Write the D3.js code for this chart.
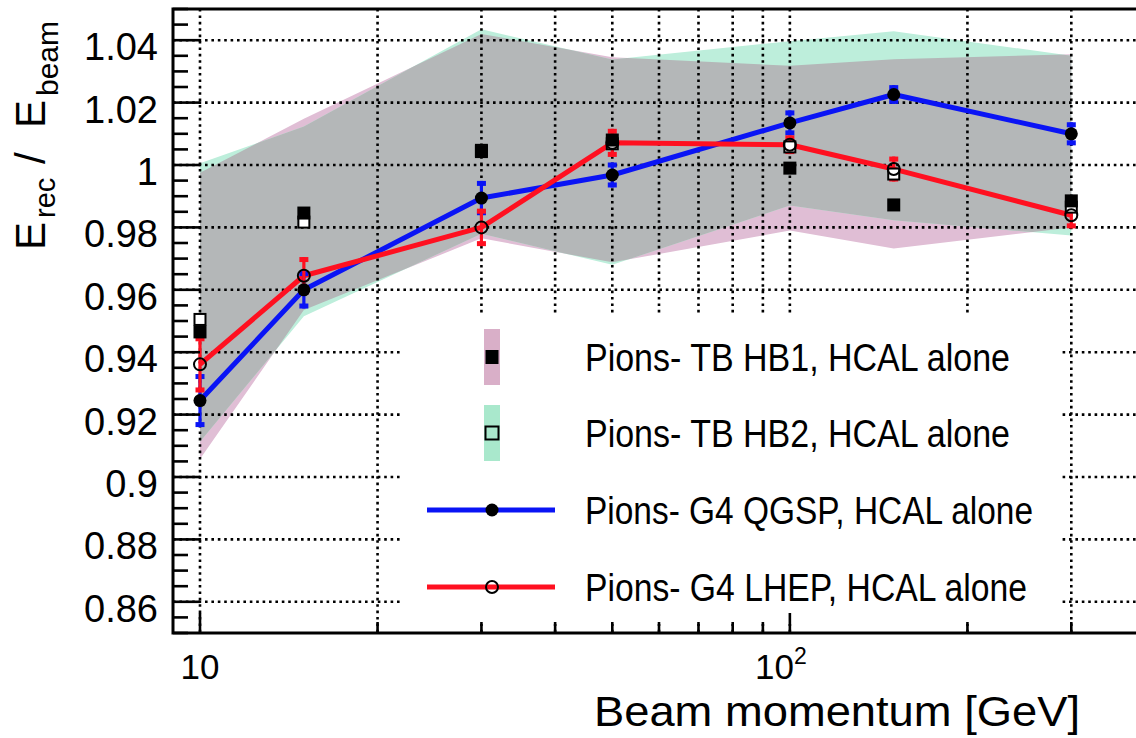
<!DOCTYPE html>
<html>
<head>
<meta charset="utf-8">
<script src="https://cdn.jsdelivr.net/npm/d3@7"></script>
<style>
  html, body { margin: 0; padding: 0; background: #fff; }
  svg { display: block; font-family: "Liberation Sans", Arial, sans-serif; }
</style>
</head>
<body>
<svg id="chart" width="1136" height="738"></svg>
<script>
// Beam energies (GeV)
const energies = [10, 15, 30, 50, 100, 150, 300];

// Geant4 QGSP simulation, HCAL alone
const qgsp    = [0.9245, 0.9600, 0.9894, 0.9968, 1.0135, 1.0226, 1.0100];
const qgspErr = [0.0085, 0.0060, 0.0055, 0.0040, 0.0040, 0.0030, 0.0037];

// Geant4 LHEP simulation, HCAL alone
const lhep    = [0.9361, 0.9645, 0.9800, 1.0071, 1.0065, 0.9987, 0.9839];
const lhepErr = [0.0090, 0.0060, 0.0060, 0.0045, 0.0030, 0.0040, 0.0042];

// Test-beam measurements
const hb1 = [0.9465, 0.9846, 1.0043, 1.0080, 0.9990, 0.9872, 0.9885];
const hb2 = [0.9505, 0.9817, 1.0047, 1.0068, 1.0058, 0.9971, 0.9865];

// Systematic uncertainty bands of the test-beam data
const hb1BandHi = [0.9975, 1.0148, 1.0420, 1.0345, 1.0318, 1.0339, 1.0355];
const hb1BandLo = [0.9058, 0.9535, 0.9765, 0.9688, 0.9790, 0.9732, 0.9800];
const hb2BandHi = [1.0006, 1.0123, 1.0435, 1.0338, 1.0397, 1.0429, 1.0350];
const hb2BandLo = [0.9113, 0.9515, 0.9780, 0.9680, 0.9870, 0.9823, 0.9774];

// Axis ticks
const yMajorTicks = [0.86, 0.88, 0.9, 0.92, 0.94, 0.96, 0.98, 1, 1.02, 1.04];
const yTickLabels = ["0.86", "0.88", "0.9", "0.92", "0.94", "0.96", "0.98", "1", "1.02", "1.04"];
const xGridValues = [10, 20, 30, 40, 50, 60, 70, 80, 90, 100, 200, 300];
const xMajorTicks = [10, 100];

const legendLabels = [
  "Pions- TB HB1, HCAL alone",
  "Pions- TB HB2, HCAL alone",
  "Pions- G4 QGSP, HCAL alone",
  "Pions- G4 LHEP, HCAL alone"
];

const C = {
  pink: "#e0bed5", green: "#bdeedb", overlap: "#b4b7b8",
  pinkKey: "#d9afc8", greenKey: "#a9e8cc",
  blue: "#0a14f5", red: "#ff1020"
};

const svg = d3.select("#chart");
const plot = { left: 173, right: 1145, top: 9, bottom: 633 };

const x = d3.scaleLog().domain([9, 400]).range([plot.left, plot.right]);
const y = d3.scaleLinear().domain([0.85, 1.05]).range([plot.bottom, plot.top]);

svg.append("defs").append("clipPath").attr("id", "plotClip")
  .append("rect").attr("x", plot.left).attr("y", plot.top)
  .attr("width", plot.right - plot.left).attr("height", plot.bottom - plot.top);

const root = svg.append("g").attr("clip-path", "url(#plotClip)");

// ---- uncertainty bands ----
const bandArea = (lo, hi) => d3.area()
  .x((d, i) => x(energies[i]))
  .y0((d, i) => y(lo[i]))
  .y1((d, i) => y(hi[i]));

const hb1Path = bandArea(hb1BandLo, hb1BandHi)(energies);
const hb2Path = bandArea(hb2BandLo, hb2BandHi)(energies);

svg.select("defs").append("clipPath").attr("id", "hb2Clip")
  .append("path").attr("d", hb2Path);

root.append("path").attr("d", hb1Path).attr("fill", C.pink);
root.append("path").attr("d", hb2Path).attr("fill", C.green);
// overlap of the two bands
root.append("path").attr("d", hb1Path).attr("fill", C.overlap)
  .attr("clip-path", "url(#hb2Clip)");

// ---- grid ----
const grid = root.append("g").attr("stroke", "#000").attr("stroke-width", 2.6)
  .attr("stroke-dasharray", "2.6,3.8").attr("fill", "none");
grid.selectAll("line.v").data(xGridValues).join("line").attr("class", "v")
  .attr("x1", d => x(d)).attr("x2", d => x(d))
  .attr("y1", plot.top).attr("y2", plot.bottom);
grid.selectAll("line.h").data(yMajorTicks).join("line").attr("class", "h")
  .attr("x1", plot.left).attr("x2", plot.right)
  .attr("y1", d => y(d)).attr("y2", d => y(d));

// ---- legend box (white, hides the grid behind it) ----
const lg = { x: 402, y: 316, w: 660, h: 308 };
root.append("rect").attr("x", lg.x).attr("y", lg.y).attr("width", lg.w).attr("height", lg.h)
  .attr("fill", "#fff");

// ---- simulation lines ----
const line = vals => d3.line().x((d, i) => x(energies[i])).y((d, i) => y(vals[i]))(energies);
root.append("path").attr("d", line(qgsp)).attr("fill", "none")
  .attr("stroke", C.blue).attr("stroke-width", 5).attr("stroke-linejoin", "round");
root.append("path").attr("d", line(lhep)).attr("fill", "none")
  .attr("stroke", C.red).attr("stroke-width", 5).attr("stroke-linejoin", "round");

// ---- error bars ----
function errorBars(vals, errs, color) {
  const g = root.append("g").attr("fill", color).attr("stroke", color);
  energies.forEach((e, i) => {
    const cx = x(e), yHi = y(vals[i] + errs[i]), yLo = y(vals[i] - errs[i]);
    g.append("line").attr("x1", cx).attr("x2", cx).attr("y1", yHi).attr("y2", yLo)
      .attr("stroke-width", 3.2);
    g.append("rect").attr("x", cx - 4.5).attr("y", yHi).attr("width", 9).attr("height", 5)
      .attr("stroke", "none");
    g.append("rect").attr("x", cx - 4.5).attr("y", yLo - 5).attr("width", 9).attr("height", 5)
      .attr("stroke", "none");
  });
}
errorBars(qgsp, qgspErr, C.blue);
errorBars(lhep, lhepErr, C.red);

// ---- markers ----
const sq = 13;
root.append("g").selectAll("rect").data(hb2).join("rect")
  .attr("x", (d, i) => x(energies[i]) - sq / 2 + 1).attr("y", d => y(d) - sq / 2 + 1)
  .attr("width", sq - 2).attr("height", sq - 2)
  .attr("fill", "#fff").attr("stroke", "#000").attr("stroke-width", 2);
root.append("g").selectAll("rect").data(hb1).join("rect")
  .attr("x", (d, i) => x(energies[i]) - sq / 2).attr("y", d => y(d) - sq / 2)
  .attr("width", sq).attr("height", sq).attr("fill", "#000");
root.append("g").selectAll("circle").data(qgsp).join("circle")
  .attr("cx", (d, i) => x(energies[i])).attr("cy", d => y(d)).attr("r", 6.5)
  .attr("fill", "#000");
root.append("g").selectAll("circle").data(lhep).join("circle")
  .attr("cx", (d, i) => x(energies[i])).attr("cy", d => y(d)).attr("r", 6)
  .attr("fill", "none").attr("stroke", "#000").attr("stroke-width", 2);

// ---- frame & axes ----
svg.append("rect").attr("x", plot.left).attr("y", plot.top)
  .attr("width", plot.right - plot.left).attr("height", plot.bottom - plot.top)
  .attr("fill", "none").attr("stroke", "#000").attr("stroke-width", 3);

const yMinor = d3.range(0.85, 1.0501, 0.005).map(v => +v.toFixed(3));
const yAxisG = svg.append("g").attr("stroke", "#000").attr("stroke-width", 2.6);
yAxisG.selectAll("line").data(yMinor).join("line")
  .attr("x1", plot.left)
  .attr("x2", d => plot.left + (yMajorTicks.some(t => Math.abs(t - d) < 1e-6) ? 27 : 15))
  .attr("y1", d => y(d)).attr("y2", d => y(d));

svg.append("g").selectAll("text").data(yMajorTicks).join("text")
  .attr("x", 158).attr("y", d => y(d) + 20)
  .attr("text-anchor", "end").attr("font-size", 38).attr("fill", "#000")
  .text((d, i) => yTickLabels[i]);

const xAxisG = svg.append("g").attr("stroke", "#000").attr("stroke-width", 2.6);
xAxisG.selectAll("line").data(xGridValues).join("line")
  .attr("x1", d => x(d)).attr("x2", d => x(d))
  .attr("y1", plot.bottom)
  .attr("y2", d => plot.bottom - (xMajorTicks.includes(d) ? 20 : 11));

// x tick labels: 10 and 10^2
const xl = svg.append("g").attr("font-size", 35).attr("fill", "#000");
xl.append("text").attr("x", x(10)).attr("y", 679).attr("text-anchor", "middle").text("10");
const t2 = xl.append("text").attr("x", x(100) - 9).attr("y", 679).attr("text-anchor", "middle");
t2.append("tspan").text("10");
t2.append("tspan").attr("font-size", 23).attr("dy", -15).text("2");

// axis titles
svg.append("text").attr("x", 1080).attr("y", 726).attr("text-anchor", "end")
  .attr("font-size", 43).attr("fill", "#000")
  .attr("textLength", 486).attr("lengthAdjust", "spacingAndGlyphs")
  .text("Beam momentum [GeV]");

const yt = svg.append("text").attr("transform", "translate(45,0) rotate(-90)")
  .attr("fill", "#000").attr("font-size", 42);
yt.append("tspan").attr("x", -250).attr("y", 0).text("E");
yt.append("tspan").attr("x", -218).attr("y", 10).attr("font-size", 29).text("rec");
yt.append("tspan").attr("x", -164).attr("y", 0).text("/");
yt.append("tspan").attr("x", -128).attr("y", 0).text("E");
yt.append("tspan").attr("x", -96).attr("y", 13).attr("font-size", 30).text("beam");

// ---- legend ----
const keyX = 492, lineX0 = 427, lineX1 = 555, textX = 585;
const rows = [357, 433, 510, 587];
const leg = svg.append("g");
leg.append("rect").attr("x", keyX - 8).attr("y", rows[0] - 28).attr("width", 16).attr("height", 56)
  .attr("fill", C.pinkKey);
leg.append("rect").attr("x", keyX - 6.5).attr("y", rows[0] - 7).attr("width", 13).attr("height", 14)
  .attr("fill", "#000");
leg.append("rect").attr("x", keyX - 8).attr("y", rows[1] - 28).attr("width", 16).attr("height", 56)
  .attr("fill", C.greenKey);
leg.append("rect").attr("x", keyX - 6.5).attr("y", rows[1] - 6.5).attr("width", 13).attr("height", 13)
  .attr("fill", "none").attr("stroke", "#000").attr("stroke-width", 2);
leg.append("line").attr("x1", lineX0).attr("x2", lineX1).attr("y1", rows[2]).attr("y2", rows[2])
  .attr("stroke", C.blue).attr("stroke-width", 5);
leg.append("circle").attr("cx", keyX).attr("cy", rows[2]).attr("r", 6.5).attr("fill", "#000");
leg.append("line").attr("x1", lineX0).attr("x2", lineX1).attr("y1", rows[3]).attr("y2", rows[3])
  .attr("stroke", C.red).attr("stroke-width", 5);
leg.append("circle").attr("cx", keyX).attr("cy", rows[3]).attr("r", 6).attr("fill", "none")
  .attr("stroke", "#000").attr("stroke-width", 2);

const legWidths = [425, 425, 448, 442];
leg.selectAll("text").data(legendLabels).join("text")
  .attr("x", textX).attr("y", (d, i) => rows[i] + 14)
  .attr("font-size", 38).attr("fill", "#000")
  .attr("textLength", (d, i) => legWidths[i]).attr("lengthAdjust", "spacingAndGlyphs")
  .text(d => d);
</script>
</body>
</html>
